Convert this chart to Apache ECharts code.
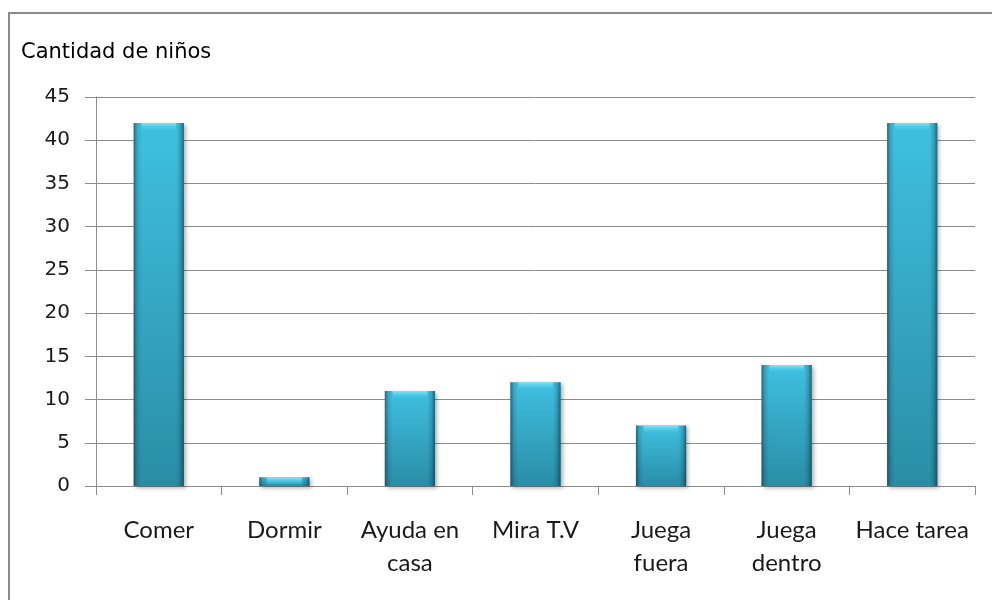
<!DOCTYPE html>
<html>
<head>
<meta charset="utf-8">
<script src="https://cdn.jsdelivr.net/npm/echarts@6/dist/echarts.min.js"></script>
<style>html,body{margin:0;padding:0;background:#fff}#c{width:992px;height:600px}</style>
</head>
<body>
<div id="c"></div>
<script>
const categories = ['Comer', 'Dormir', 'Ayuda en\ncasa', 'Mira T.V', 'Juega\nfuera', 'Juega\ndentro', 'Hace tarea'];
const values = [42, 1, 11, 12, 7, 14, 42];
const yTicks = [0, 5, 10, 15, 20, 25, 30, 35, 40, 45];
const axisTitle = 'Cantidad de niños';

const chart = echarts.init(document.getElementById('c'), null, {renderer: 'canvas'});
const G = echarts.graphic;
chart.setOption({
  backgroundColor: '#fff',
  animation: false,
  graphic: [
    {type: 'rect', shape: {x: 9, y: 13, width: 1100, height: 700}, style: {fill: 'none', stroke: '#8a8a8a', lineWidth: 2}, silent: true},
    {type: 'text', left: 21, top: 42, style: {text: axisTitle, font: '21px "DejaVu Sans"', fill: '#000'}}
  ],
  grid: {left: 96, right: 17, top: 97, bottom: 114},
  xAxis: {
    type: 'category',
    data: categories,
    axisLine: {lineStyle: {color: '#8c8c8c', width: 1}},
    axisTick: {show: true, alignWithLabel: false, length: 9, lineStyle: {color: '#8c8c8c'}},
    axisLabel: {color: '#1a1a1a', fontFamily: 'Lato', fontSize: 24, margin: 28, lineHeight: 33, interval: 0}
  },
  yAxis: {
    type: 'value',
    min: yTicks[0], max: yTicks[yTicks.length - 1], interval: 5,
    axisLine: {show: true, lineStyle: {color: '#8c8c8c'}},
    axisTick: {show: true, length: 11, lineStyle: {color: '#8c8c8c'}},
    splitLine: {lineStyle: {color: '#8c8c8c', width: 1}},
    axisLabel: {color: '#1a1a1a', fontFamily: 'DejaVu Sans', fontSize: 20, margin: 26}
  },
  series: [
    {
      type: 'bar', data: values, barWidth: '40%',
      itemStyle: {
        color: new G.LinearGradient(0, 0, 0, 1, [
          {offset: 0, color: '#3fc0e0'},
          {offset: 1, color: '#2a8da6'}
        ]),
        shadowColor: 'rgba(0,0,0,0.3)', shadowBlur: 4, shadowOffsetX: 2, shadowOffsetY: 2
      }
    },
    {
      type: 'bar', data: values, barWidth: '40%', barGap: '-100%', silent: true,
      itemStyle: {
        color: new G.LinearGradient(0, 0, 1, 0, [
          {offset: 0, color: 'rgba(10,40,55,0.55)'},
          {offset: 0.07, color: 'rgba(10,40,55,0.15)'},
          {offset: 0.15, color: 'rgba(10,40,55,0)'},
          {offset: 0.85, color: 'rgba(10,40,55,0)'},
          {offset: 0.93, color: 'rgba(10,40,55,0.2)'},
          {offset: 1, color: 'rgba(10,40,55,0.6)'}
        ])
      }
    },
    {
      type: 'pictorialBar', data: values, symbol: 'rect', symbolSize: ['40%', 7],
      symbolPosition: 'end', symbolOffset: [0, 0], barGap: '-100%', silent: true, z: 5,
      itemStyle: {
        color: new G.LinearGradient(0, 0, 0, 1, [
          {offset: 0, color: 'rgba(130,230,250,1)'},
          {offset: 1, color: 'rgba(70,200,235,0.2)'}
        ])
      }
    }
  ]
});
</script>
</body>
</html>
